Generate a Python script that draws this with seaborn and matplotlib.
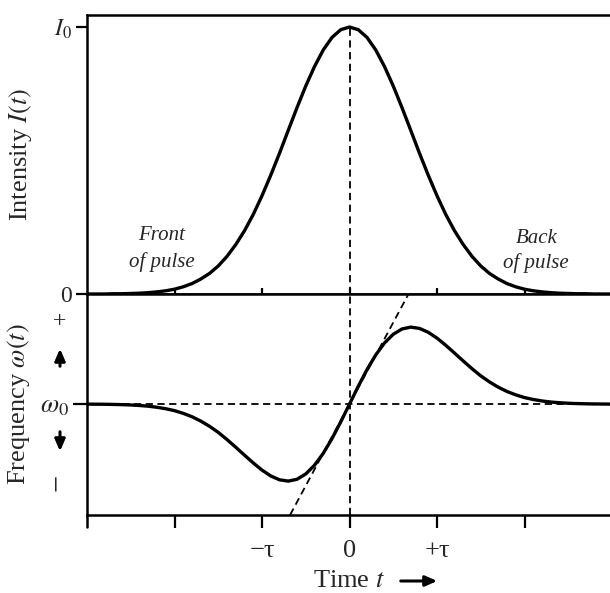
import numpy as np
import pandas as pd
import matplotlib
matplotlib.use("Agg")
import matplotlib.pyplot as plt
import seaborn as sns

# ---- data (time in units of tau) ----
time_tau = [-3.0, -2.9, -2.8, -2.7, -2.6, -2.5, -2.4, -2.3, -2.2, -2.1,
            -2.0, -1.9, -1.8, -1.7, -1.6, -1.5, -1.4, -1.3, -1.2, -1.1,
            -1.0, -0.9, -0.8, -0.7, -0.6, -0.5, -0.4, -0.3, -0.2, -0.1,
            0.0, 0.1, 0.2, 0.3, 0.4, 0.5, 0.6, 0.7, 0.8, 0.9,
            1.0, 1.1, 1.2, 1.3, 1.4, 1.5, 1.6, 1.7, 1.8, 1.9,
            2.0, 2.1, 2.2, 2.3, 2.4, 2.5, 2.6, 2.7, 2.8, 2.9, 3.0]

intensity = [0.000, 0.000, 0.000, 0.001, 0.001, 0.002, 0.003, 0.005, 0.008, 0.012,
             0.018, 0.027, 0.039, 0.056, 0.077, 0.105, 0.141, 0.185, 0.237, 0.298,
             0.368, 0.445, 0.527, 0.613, 0.698, 0.779, 0.852, 0.914, 0.961, 0.990,
             1.000, 0.990, 0.961, 0.914, 0.852, 0.779, 0.698, 0.613, 0.527, 0.445,
             0.368, 0.298, 0.237, 0.185, 0.141, 0.105, 0.077, 0.056, 0.039, 0.027,
             0.018, 0.012, 0.008, 0.005, 0.003, 0.002, 0.001, 0.001, 0.000, 0.000, 0.000]

freq_shift = [0.000, -0.001, -0.002, -0.004, -0.007, -0.011, -0.018, -0.027, -0.041, -0.060,
              -0.085, -0.120, -0.164, -0.220, -0.288, -0.367, -0.460, -0.560, -0.663, -0.764,
              -0.857, -0.933, -0.983, -1.000, -0.976, -0.907, -0.794, -0.639, -0.448, -0.231,
              0.000, 0.231, 0.448, 0.639, 0.794, 0.907, 0.976, 1.000, 0.983, 0.933,
              0.857, 0.764, 0.663, 0.560, 0.460, 0.367, 0.288, 0.220, 0.164, 0.120,
              0.085, 0.060, 0.041, 0.027, 0.018, 0.011, 0.007, 0.004, 0.002, 0.001, 0.000]

tangent_slope = 2.12         # slope of dashed tangent at t = 0
x_ticks = [-2, -1, 0, 1, 2]
x_tick_labels = ["", "\u2212\u03c4", "0", "+\u03c4", ""]
y_top_ticks = [0, 1]
y_top_labels = ["0", r"$I_0$"]

df = pd.DataFrame({"t": time_tau, "I": intensity, "w": freq_shift})

# ---- style ----
sns.set_theme(style="white")
plt.rcParams["font.family"] = ["Liberation Serif", "DejaVu Serif"]
plt.rcParams["mathtext.fontset"] = "stix"
plt.rcParams["axes.edgecolor"] = "black"
plt.rcParams["axes.linewidth"] = 1.8

W, H = 610, 593
fig = plt.figure(figsize=(W / 100, H / 100), dpi=100)
fig.patch.set_facecolor("white")

def fx(x):
    return x / W

def fy(y):
    return 1 - y / H

ax_w = 525 / W
ax1 = fig.add_axes([fx(87), fy(294), ax_w, fy(15) - fy(294)])
ax2 = fig.add_axes([fx(87), fy(515), ax_w, fy(294) - fy(515)])

dash = (0, (4, 2.5))

# ---- top: intensity ----
sns.lineplot(data=df, x="t", y="I", ax=ax1, color="black", lw=2.4)
for ln in ax1.lines:
    ln.set_solid_joinstyle("round")
ax1.vlines(0, 0, 1.01, colors="black", linestyles=dash, lw=1.3)
ax1.set_xlim(-3, 3)
ax1.set_ylim(0, 1.045)
ax1.spines["right"].set_visible(False)
ax1.set_xticks(x_ticks)
ax1.set_xticklabels([])
ax1.tick_params(axis="x", direction="inout", length=9, width=1.6, color="black", bottom=True)
ax1.set_yticks(y_top_ticks)
ax1.set_yticklabels(y_top_labels, fontsize=17)
ax1.tick_params(axis="y", direction="out", length=8, width=1.6, color="black", pad=3, left=True)
ax1.set_xlabel("")
ax1.set_ylabel(r"Intensity $I(t)$", fontsize=19)
ax1.yaxis.set_label_coords(-0.10, 0.5)

fig.text(fx(162), fy(236), "Front", ha="center", va="center", style="italic", fontsize=15)
fig.text(fx(162), fy(262), "of pulse", ha="center", va="center", style="italic", fontsize=15)
fig.text(fx(537), fy(238), "Back", ha="center", va="center", style="italic", fontsize=15)
fig.text(fx(536), fy(263), "of pulse", ha="center", va="center", style="italic", fontsize=15)

# ---- bottom: frequency ----
sns.lineplot(data=df, x="t", y="w", ax=ax2, color="black", lw=2.4)
for ln in ax2.lines:
    ln.set_solid_joinstyle("round")
ax2.axhline(0, color="black", ls=dash, lw=1.3)
ax2.axvline(0, color="black", ls=dash, lw=1.3)
ax2.axline((0, 0), slope=tangent_slope, color="black", ls=dash, lw=1.3)
ax2.set_xlim(-3, 3)
ax2.set_ylim(-1.44, 1.43)
ax2.spines["right"].set_visible(False)
ax2.set_xticks(x_ticks)
ax2.set_xticklabels(x_tick_labels, fontsize=19)
ax2.tick_params(axis="x", direction="out", length=9, width=1.6, color="black", pad=9, bottom=True)
ax2.set_yticks([0])
ax2.set_yticklabels([r"$\omega_0$"], fontsize=19)
ax2.tick_params(axis="y", direction="out", length=10, width=1.6, color="black", pad=3, left=True)
ax2.set_xlabel(r"Time $t$", fontsize=19, labelpad=6)
ax2.set_ylabel(r"Frequency $\omega(t)$", fontsize=19)
ax2.yaxis.set_label_coords(-0.104, 0.5)
ax2.plot([0, 0], [-0.055, 0], transform=ax2.transAxes, color="black", lw=1.8, clip_on=False)

# + / - arrows beside frequency label
fig.text(fx(60), fy(322), "+", ha="center", va="center", fontsize=17)
fig.text(fx(57), fy(482), "\u2212", ha="center", va="center", fontsize=22, rotation=90)
arrow_kw = dict(arrowstyle="-|>,head_length=0.5,head_width=0.22", color="black", lw=2.2)
fig.add_artist(matplotlib.patches.FancyArrowPatch((fx(60), fy(369)), (fx(60), fy(346)),
               transform=fig.transFigure, mutation_scale=14, **arrow_kw))
fig.add_artist(matplotlib.patches.FancyArrowPatch((fx(60), fy(429)), (fx(60), fy(454)),
               transform=fig.transFigure, mutation_scale=14, **arrow_kw))
fig.add_artist(matplotlib.patches.FancyArrowPatch((fx(398), fy(581)), (fx(440), fy(581)),
               transform=fig.transFigure, mutation_scale=14, **arrow_kw))

fig.savefig("out.png", dpi=100, facecolor="white")
